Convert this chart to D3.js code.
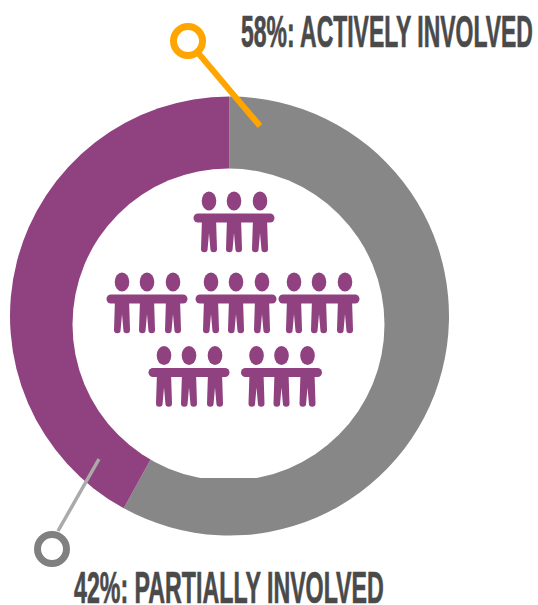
<!DOCTYPE html>
<html>
<head>
<meta charset="utf-8">
<script src="https://cdnjs.cloudflare.com/ajax/libs/d3/7.8.5/d3.min.js"></script>
<style>
    body { margin: 0; background: #fff; }
    svg { display: block; }
    .label {
        font-family: "Liberation Sans Narrow", "Liberation Sans", sans-serif;
        font-weight: bold;
        font-size: 44px;
        fill: #4a4a4a;
        stroke: #4a4a4a;
        stroke-width: 0.7px;
    }
</style>
</head>
<body>
<script>
//involvement data
var categories = ["Actively involved", "Partially involved"];
var shares = [58, 42];
var labels = ["58%: ACTIVELY INVOLVED", "42%: PARTIALLY INVOLVED"];

//people icons per row of the pictogram
var groupsPerRow = [1, 3, 2];

var w = 538, h = 605;
var cx = 229.5, cy = 316, outerR = 219.5;

var svg = d3.select("body")
    .append("svg")
    .attr("width", w)
    .attr("height", h);

//colour per category
var color = d3.scaleOrdinal()
    .domain(categories)
    .range(["#878787", "#8f4180"]);

//pie, the hole is drawn on top because it sits off centre
var pie = d3.pie().sort(null);
var arc = d3.arc().innerRadius(0).outerRadius(outerR);

svg.append("g")
    .attr("transform", "translate(" + cx + "," + cy + ")")
    .selectAll("path")
    .data(pie(shares))
    .enter()
    .append("path")
    .attr("d", arc)
    .style("fill", function(d, i){
        return color(categories[i]);
    });

//the hole has a flat bottom edge in the original
svg.append("clipPath")
    .attr("id", "holeClip")
    .append("rect")
    .attr("x", 0)
    .attr("y", 0)
    .attr("width", w)
    .attr("height", 478);

svg.append("circle")
    .attr("cx", 228.5)
    .attr("cy", 324.5)
    .attr("r", 156)
    .attr("clip-path", "url(#holeClip)")
    .style("fill", "#fff");

//where each group of three people sits, row by row
var groupX = [[234], [147, 236, 319], [189, 281.5]];
var rowY = [218, 299, 372.5];
var personDx = [-25, 0, 26];

var person = "M-7,0 L7,0 L8,31 A3.3,3.3 0 0 1 1.4,31 L0,15 L-1.4,31 A3.3,3.3 0 0 1 -8,31 Z";

groupsPerRow.forEach(function(n, r){
    d3.range(n).forEach(function(g){
        var group = svg.append("g")
            .attr("transform", "translate(" + groupX[r][g] + "," + rowY[r] + ")")
            .style("fill", "#8f4180");

        //arms
        group.append("rect")
            .attr("x", -40.5)
            .attr("y", -4.5)
            .attr("width", 81)
            .attr("height", 9)
            .attr("rx", 4.5);

        //heads and bodies
        personDx.forEach(function(dx){
            group.append("ellipse")
                .attr("cx", dx)
                .attr("cy", -17)
                .attr("rx", 7.3)
                .attr("ry", 9.5);
            group.append("path")
                .attr("transform", "translate(" + dx + ",0)")
                .attr("d", person);
        });
    });
});

//callouts
var callouts = [
    {x1: 199, y1: 54, x2: 260, y2: 126, line: "#ffa500", lineW: 6, ring: "#ffa500", rx: 188, ry: 41},
    {x1: 58, y1: 531, x2: 99, y2: 459, line: "#aaaaaa", lineW: 3.5, ring: "#808080", rx: 52, ry: 549}
];

callouts.forEach(function(c){
    svg.append("line")
        .attr("x1", c.x1).attr("y1", c.y1)
        .attr("x2", c.x2).attr("y2", c.y2)
        .style("stroke", c.line)
        .style("stroke-width", c.lineW);
    svg.append("circle")
        .attr("cx", c.rx).attr("cy", c.ry)
        .attr("r", 14.5)
        .style("fill", "#fff")
        .style("stroke", c.ring)
        .style("stroke-width", 7);
});

//labels, squeezed sideways to the condensed width of the original
var labelPos = [[241, 47, 292], [74, 603, 310]];

svg.selectAll(".label")
    .data(labels)
    .enter()
    .append("text")
    .attr("class", "label")
    .text(function(d){ return d; })
    .attr("transform", function(d, i){
        var scaleX = labelPos[i][2] / this.getComputedTextLength();
        return "translate(" + labelPos[i][0] + "," + labelPos[i][1] + ") scale(" + scaleX + ",1)";
    });
</script>
</body>
</html>
